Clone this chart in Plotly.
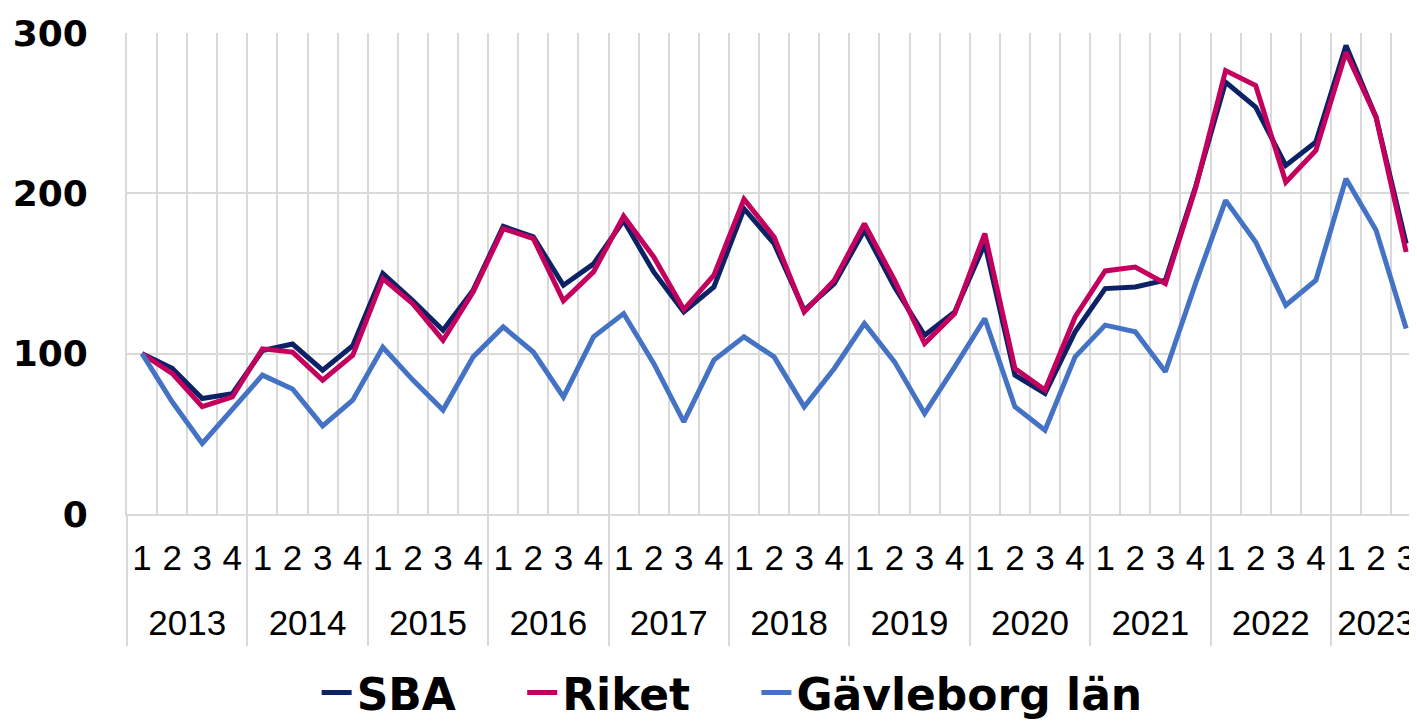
import plotly.graph_objects as go

years = ["2013", "2014", "2015", "2016", "2017", "2018", "2019", "2020", "2021", "2022", "2023"]
quarters = ["1", "2", "3", "4"]
n_points = 43

sba = [100, 90.8, 72, 75, 102, 106, 89.7, 105, 150, 133, 114.6, 139.6, 179.4, 172.8, 142.7, 156,
       183, 151, 126, 141.6, 190.4, 168.6, 127, 143.7, 177, 141.6, 111.5, 126, 168.6, 86.6, 75.2,
       113.6, 140.6, 141.6, 145.8, 204, 269.4, 253.8, 217.4, 232, 292.2, 247.5, 168.6]
riket = [100, 87.7, 66.9, 73, 103, 101, 83.5, 99, 146.8, 131, 108.4, 138.5, 178, 171.8, 133, 151,
         185.7, 160.3, 127.5, 149, 196.3, 172.8, 126, 145.8, 181, 145.8, 106.3, 125, 174.9, 90.8, 77.3,
         122.9, 151.6, 154, 143.7, 203, 276.6, 267.3, 207, 226.8, 288, 247.5, 163.4]
gavleborg = [100, 70, 44, 65, 86.6, 78, 55, 71, 104, 83.5, 64.8, 98, 116.7, 101, 73, 110.5,
             125, 93.9, 57.5, 96, 110.5, 98, 66.9, 90.8, 118.8, 94.9, 62.7, 91.8, 121.9, 66.9, 52.3,
             98, 117.8, 113.6, 88.7, 143.7, 195.6, 169.7, 130.2, 145.8, 209.1, 177, 115.7]

# categories: one per quarter
year_of = [y for y in years for q in quarters][:n_points]
quarter_of = [q for y in years for q in quarters][:n_points]
cats = [f"{y} {q}" for y, q in zip(year_of, quarter_of)]

# year label centres and year boundaries (in category index units)
year_centres, year_bounds = [], []
for y in years:
    idx = [i for i, yy in enumerate(year_of) if yy == y]
    year_centres.append(sum(idx) / len(idx))
    year_bounds.append(idx[0] - 0.5)

series = [
    ("SBA\u00a0\u00a0\u00a0\u00a0", sba, "#0B2266"),
    ("Riket\u00a0\u00a0\u00a0\u00a0", riket, "#C4005F"),
    ("Gävleborg län", gavleborg, "#4472C4"),
]

fig = go.Figure()
for name, vals, col in series:
    fig.add_trace(go.Scatter(x=cats, y=vals, mode="lines", name=name,
                             line=dict(color=col, width=5)))

# empty helper trace so that the year axis (x2) is drawn
fig.add_trace(go.Scatter(x=year_centres, y=[None] * len(year_centres), xaxis="x2",
                         mode="lines", showlegend=False, hoverinfo="skip"))

grid = "#d9d9d9"
xr = [-0.5, 42.36]
tick_font = dict(family="Liberation Sans", size=35, color="black")
fig.update_layout(
    width=1409, height=714,
    paper_bgcolor="white", plot_bgcolor="white",
    margin=dict(l=119, r=0, t=25, b=208, autoexpand=False),
    showlegend=True,
    legend=dict(orientation="h", x=0.147, xanchor="left", y=-0.372, yanchor="middle",
                font=dict(family="DejaVu Sans", size=44, color="black", weight="bold"),
                bgcolor="rgba(0,0,0,0)"),
    xaxis=dict(type="category", categoryorder="array", categoryarray=cats, range=xr,
               tickmode="array", tickvals=cats, ticktext=quarter_of,
               tickson="boundaries", showgrid=True, gridcolor=grid, gridwidth=2,
               ticks="", showline=True, linecolor=grid, linewidth=2,
               ticklabelstandoff=12, tickfont=tick_font),
    xaxis2=dict(overlaying="x", anchor="y", side="bottom", type="linear", range=xr,
                showgrid=False, zeroline=False, showline=False,
                tickmode="array", tickvals=year_centres, ticktext=years,
                ticks="", ticklabelstandoff=85, tickfont=tick_font,
                minor=dict(tickmode="array", tickvals=year_bounds, ticks="outside",
                           ticklen=131, tickwidth=2, tickcolor=grid, showgrid=False)),
    yaxis=dict(range=[0, 300], dtick=100, showgrid=True, gridcolor=grid, gridwidth=2,
               zeroline=False, showline=True, linecolor=grid, linewidth=2,
               ticklabelstandoff=30,
               tickfont=dict(family="DejaVu Sans", size=36, color="black", weight="bold")),
)

fig.write_html("out.html")
